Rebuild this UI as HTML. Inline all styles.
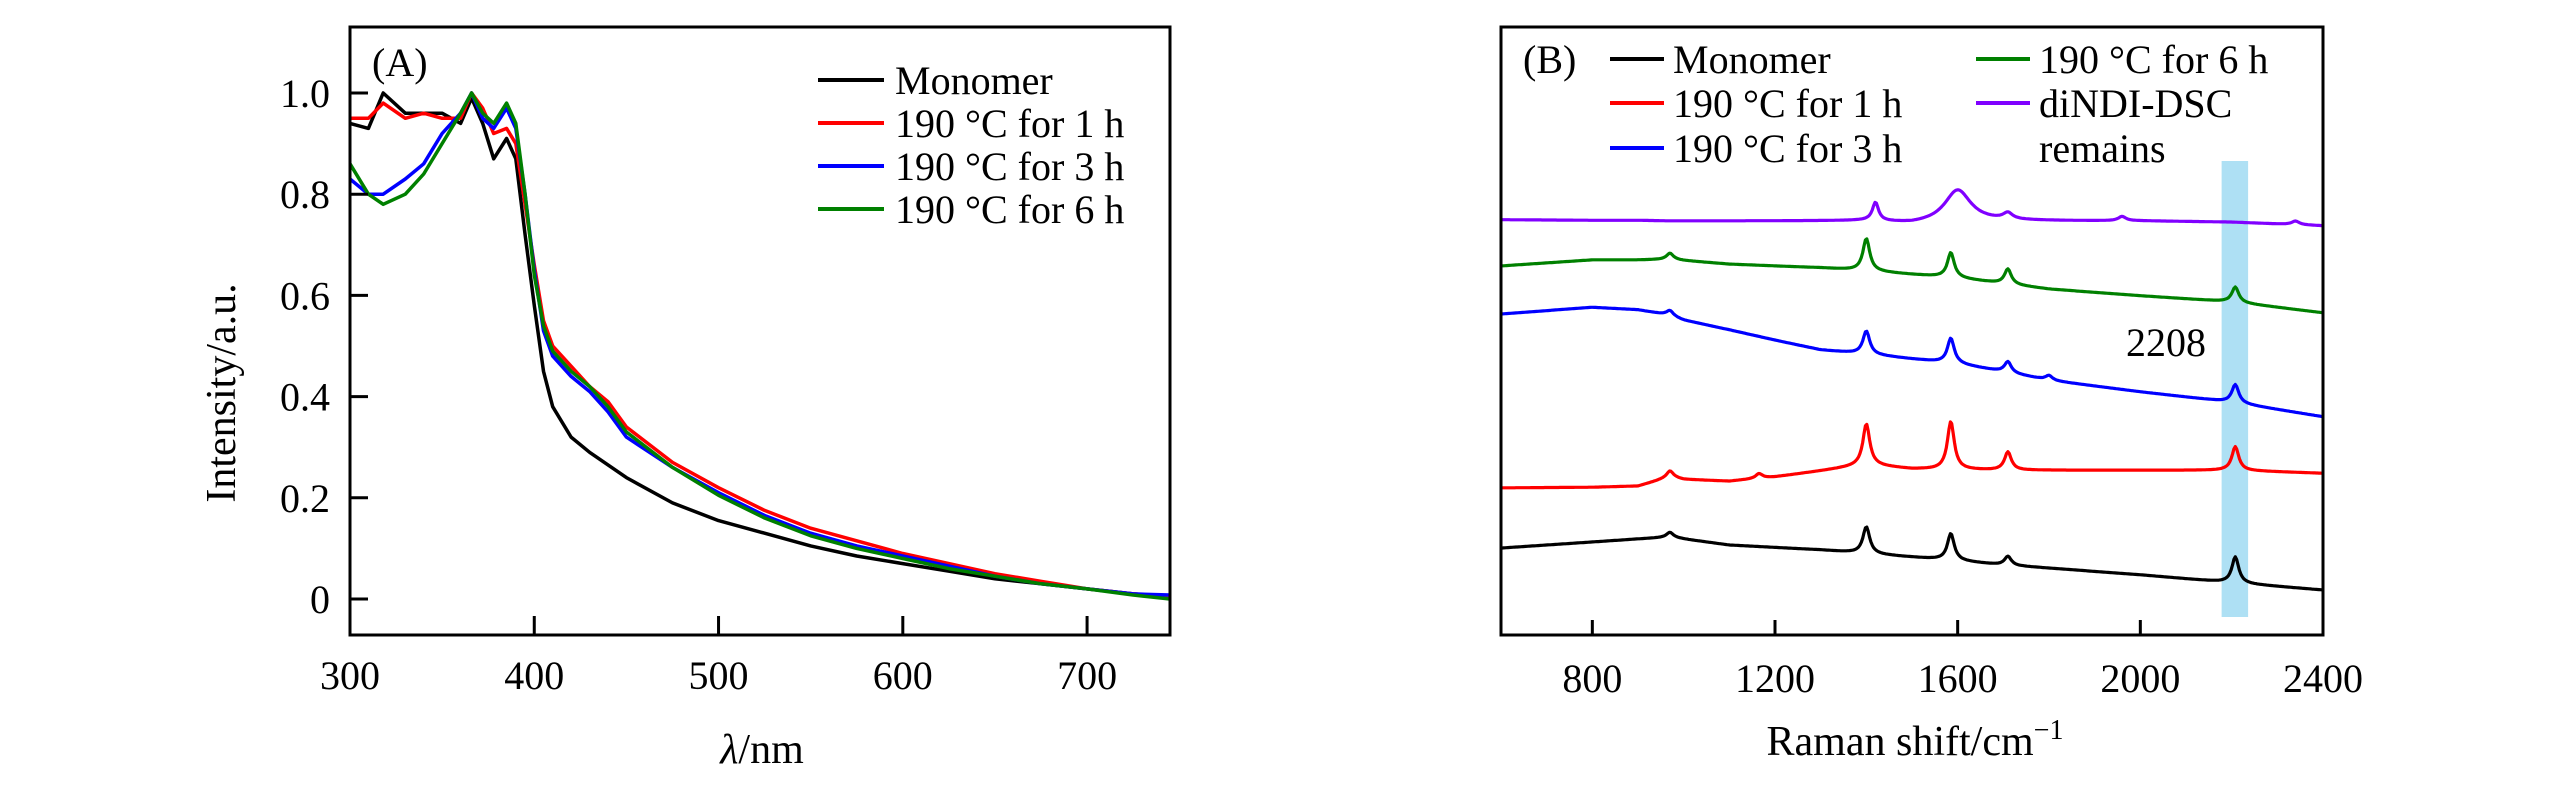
<!DOCTYPE html>
<html><head><meta charset="utf-8"><style>
html,body{margin:0;padding:0;background:#fff;}
svg{display:block;font-family:"Liberation Serif",serif;}
</style></head><body>
<svg id="chart" width="2567" height="787" viewBox="0 0 2567 787">
<g id="pa"></g>
<g id="pb"></g>
</svg>
<script>
// ---------- Panel A data ----------
const waveA = [300,310,318,330,340,350,360,366,372,378,385,390,395,400,405,410,420,430,440,450,475,500,525,550,575,600,625,650,675,700,725,745];
const monomerA = [0.94,0.93,1.0,0.96,0.96,0.96,0.94,0.99,0.94,0.87,0.91,0.87,0.72,0.58,0.45,0.38,0.32,0.29,0.265,0.24,0.19,0.155,0.13,0.105,0.085,0.07,0.055,0.04,0.03,0.02,0.01,0.005];
const h1A = [0.95,0.95,0.98,0.95,0.96,0.95,0.95,1.0,0.97,0.92,0.93,0.90,0.78,0.66,0.55,0.50,0.46,0.42,0.39,0.34,0.27,0.22,0.175,0.14,0.115,0.09,0.07,0.05,0.035,0.02,0.01,0.005];
const h3A = [0.83,0.80,0.80,0.83,0.86,0.92,0.96,1.0,0.95,0.93,0.97,0.93,0.80,0.65,0.53,0.48,0.44,0.41,0.37,0.32,0.26,0.21,0.165,0.13,0.105,0.085,0.065,0.045,0.03,0.02,0.01,0.008];
const h6A = [0.86,0.80,0.78,0.80,0.84,0.90,0.96,1.0,0.96,0.94,0.98,0.94,0.80,0.64,0.54,0.49,0.45,0.42,0.38,0.33,0.26,0.205,0.16,0.125,0.10,0.08,0.06,0.045,0.03,0.02,0.008,0.0];
const xTicksA = [300,400,500,600,700];
const yTicksA = [0,0.2,0.4,0.6,0.8,1.0];
const yTickLabelsA = ["0","0.2","0.4","0.6","0.8","1.0"];
const legendA = ["Monomer","190 °C for 1 h","190 °C for 3 h","190 °C for 6 h"];

// ---------- Panel B data ----------
const shiftB = [600,800,900,970,1000,1100,1200,1300,1400,1500,1600,1700,1800,2000,2200,2400];
const monoB  = [14.3,15.3,15.8,16.1,15.8,14.8,14.4,14.0,13.4,12.8,12.2,11.5,11.0,9.9,8.6,7.4];
const h1B    = [24.2,24.3,24.5,26.0,25.6,25.3,26.0,27.0,28.0,27.3,27.2,27.1,27.1,27.1,27.1,26.6];
const h3B    = [52.8,53.9,53.5,52.6,51.8,50.2,48.5,46.9,46.2,45.4,44.6,43.3,41.9,40.0,38.3,35.9];
const h6B    = [60.7,61.7,61.7,61.8,61.6,61.0,60.7,60.4,59.9,59.3,58.7,57.8,56.9,55.8,54.8,53.0];
const diB    = [68.3,68.2,68.2,68.1,68.1,68.1,68.1,68.1,68.1,67.6,67.8,68.1,68.1,68.1,67.9,67.3];
const peakPosMono = [970,1400,1585,1710,2208];
const peakHtMono  = [0.8,4.4,4.4,1.5,4.3];
const peakPosH1 = [970,1165,1400,1585,1710,2208];
const peakHtH1  = [1.0,0.8,6.7,7.9,3.0,3.9];
const peakPosH3 = [970,1400,1585,1710,1800,2208];
const peakHtH3  = [0.8,3.8,4.1,1.8,0.8,3.0];
const peakPosH6 = [970,1400,1585,1710,2208];
const peakHtH6  = [1.0,5.3,4.1,2.5,2.5];
const peakPosDi = [1420,1600,1710,1960,2340];
const peakHtDi  = [3.0,5.4,1.0,0.7,0.6];
const peakWdDi  = [8,35,12,10,10];
const xTicksB = [800,1200,1600,2000,2400];
const legendB = ["Monomer","190 °C for 1 h","190 °C for 3 h","190 °C for 6 h","diNDI-DSC"];

const NS="http://www.w3.org/2000/svg";
function mk(tag,attrs,parent,text){const e=document.createElementNS(NS,tag);for(const k in attrs)e.setAttribute(k,attrs[k]);if(text!==undefined)e.textContent=text;parent.appendChild(e);return e;}

// ----- Panel A -----
const pa=document.getElementById('pa');
const A={l:350,r:1170,t:27,b:635};
const xA=v=>A.l+(v-300)*(A.r-A.l)/445;
const yA=v=>599-v*506;
const colorsA=["#000000","#ff0000","#0000ff","#008000"];
const seriesA=[monomerA,h1A,h3A,h6A];
const namesA=["line-monomer","line-190c-1h","line-190c-3h","line-190c-6h"];
seriesA.forEach((s,i)=>{
  const d=s.map((v,j)=>(j?'L':'M')+xA(waveA[j]).toFixed(1)+','+yA(v).toFixed(1)).join('');
  const p=mk('path',{d:d,fill:'none',stroke:colorsA[i],'stroke-width':3.5,'stroke-linejoin':'round'},pa);
  
  
});
let fr=mk('rect',{x:A.l,y:A.t,width:A.r-A.l,height:A.b-A.t,fill:'none',stroke:'#000','stroke-width':3},pa);


xTicksA.forEach(v=>{
  const t=mk('line',{x1:xA(v),x2:xA(v),y1:A.b,y2:A.b-19,stroke:'#000','stroke-width':3},pa);
  
  
  const l=mk('text',{x:xA(v),y:689,'font-size':40,'text-anchor':'middle'},pa,String(v));
  
  
});
yTicksA.forEach((v,i)=>{
  const t=mk('line',{x1:A.l,x2:A.l+18,y1:yA(v),y2:yA(v),stroke:'#000','stroke-width':3},pa);
  
  
  const l=mk('text',{x:330,y:yA(v)+14,'font-size':40,'text-anchor':'end'},pa,yTickLabelsA[i]);
  
  
});
let tA=mk('text',{x:762,y:763,'font-size':42,'text-anchor':'middle'},pa);


mk('tspan',{'font-style':'italic'},tA,'λ');mk('tspan',{},tA,'/nm');
let yT=mk('text',{x:0,y:0,'font-size':42,'text-anchor':'middle',transform:'translate(235,393) rotate(-90)'},pa,'Intensity/a.u.');


let la=mk('text',{x:372,y:76,'font-size':40},pa,'(A)');


legendA.forEach((n,i)=>{
  const y=80+i*43;
  const ln=mk('line',{x1:818,x2:884,y1:y,y2:y,stroke:colorsA[i],'stroke-width':4},pa);
  
  
  const tx=mk('text',{x:895,y:y+14,'font-size':40},pa,n);
  
  
});

// ----- Panel B -----
const pb=document.getElementById('pb');
const B={l:1501,r:2323,t:27,b:635};
const xB=v=>B.l+(v-600)*(B.r-B.l)/1800;
const yB=v=>635-v*6.08;
let hl=mk('rect',{x:xB(2178),y:161,width:xB(2236)-xB(2178),height:456,fill:'#aee0f4'},pb);


function baseAt(base,s){for(let j=0;j<shiftB.length-1;j++){if(s<=shiftB[j+1]){const f=(s-shiftB[j])/(shiftB[j+1]-shiftB[j]);return base[j]+f*(base[j+1]-base[j]);}}return base[base.length-1];}
const seriesB=[
  {base:monoB,pp:peakPosMono,ph:peakHtMono,pw:null,c:'#000000',n:'line-monomer-raman'},
  {base:h1B,pp:peakPosH1,ph:peakHtH1,pw:null,c:'#ff0000',n:'line-190c-1h-raman'},
  {base:h3B,pp:peakPosH3,ph:peakHtH3,pw:null,c:'#0000ff',n:'line-190c-3h-raman'},
  {base:h6B,pp:peakPosH6,ph:peakHtH6,pw:null,c:'#008000',n:'line-190c-6h-raman'},
  {base:diB,pp:peakPosDi,ph:peakHtDi,pw:peakWdDi,c:'#8000ff',n:'line-dindi-dsc-remains'}
];
seriesB.forEach(S=>{
  let d='';
  for(let s=600;s<=2400;s+=3){
    let v=baseAt(S.base,s);
    S.pp.forEach((p,k)=>{const w=S.pw?S.pw[k]:9;v+=S.ph[k]/(1+((s-p)/w)**2);});
    d+=(s===600?'M':'L')+xB(s).toFixed(1)+','+yB(v).toFixed(1);
  }
  const p=mk('path',{d:d,fill:'none',stroke:S.c,'stroke-width':3.2,'stroke-linejoin':'round'},pb);
  
  
});
let frb=mk('rect',{x:B.l,y:B.t,width:B.r-B.l,height:B.b-B.t,fill:'none',stroke:'#000','stroke-width':3},pb);


xTicksB.forEach(v=>{
  const t=mk('line',{x1:xB(v),x2:xB(v),y1:B.b,y2:B.b-15,stroke:'#000','stroke-width':3},pb);
  
  
  const l=mk('text',{x:xB(v),y:692,'font-size':40,'text-anchor':'middle'},pb,String(v));
  
  
});
let tB=mk('text',{x:1915,y:755,'font-size':42,'text-anchor':'middle'},pb);


mk('tspan',{},tB,'Raman shift/cm');mk('tspan',{dy:-16,'font-size':28},tB,'−1');
let lb=mk('text',{x:1523,y:73,'font-size':40},pb,'(B)');


let pk=mk('text',{x:2166,y:356,'font-size':40,'text-anchor':'middle'},pb,'2208');


const legPos=[[1610,59],[1610,103],[1610,148],[1976,59],[1976,103]];
legendB.forEach((n,i)=>{
  const [x,y]=legPos[i];
  const ln=mk('line',{x1:x,x2:x+54,y1:y,y2:y,stroke:seriesB[i].c,'stroke-width':4},pb);
  
  
  const tx=mk('text',{x:x+63,y:y+14,'font-size':40},pb,n);
  
  
});
let rm=mk('text',{x:2039,y:162,'font-size':40},pb,'remains');


</script>
</body></html>
